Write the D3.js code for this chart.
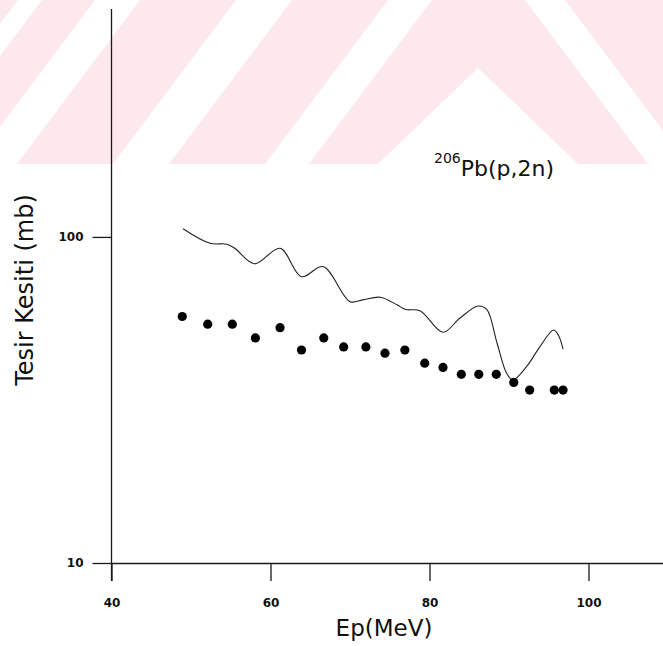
<!DOCTYPE html>
<html>
<head>
<meta charset="utf-8">
<script src="https://cdn.jsdelivr.net/npm/d3@7"></script>
<style>
  body { margin: 0; background: #fff; }
  svg { display: block; }
</style>
</head>
<body>
<svg id="chart" width="663" height="646"></svg>
<script>
// measured points (filled circles)
const pointE = [48.9, 52.1, 55.2, 58.1, 61.2, 63.9, 66.7, 69.2, 72.0, 74.4,
                76.9, 79.4, 81.7, 84.0, 86.2, 88.4, 90.6, 92.6, 95.7, 96.8]
const pointSigma = [57, 54, 54, 49, 52.7, 45, 49, 46, 46, 44,
                    45, 41, 39.8, 37.9, 37.9, 37.9, 35.8, 33.9, 33.9, 33.9]

// calculated curve
const curveE = [49.0, 52.4, 54.5, 55.5, 58.0, 61.2, 63.9, 66.6, 70.0, 71.6, 73.8,
                75.9, 77.0, 78.8, 81.7, 83.8, 86.1, 87.2, 88.5, 89.7, 90.5,
                92.2, 93.9, 95.6, 96.2, 96.8]
const curveSigma = [106, 95.6, 95.0, 92.3, 82.7, 92.3, 75.5, 81.1, 63.3, 64.1, 65.3,
                    61.9, 59.9, 59.4, 51.0, 56.3, 61.4, 59.9, 47.2, 38.2, 36.4,
                    40.0, 46.1, 51.8, 50.0, 45.3]

const xMajor = [40, 60, 80, 100]
const xMinor = [50, 70, 90]
const yMajor = [10, 100]
const yMinor = [20, 30, 40, 50, 60, 70, 80, 90, 200, 300, 400, 500]

const svg = d3.select('#chart')
const W = 663

// background watermark (pink diagonal bands)
const bandH = 164
const k = 0.75
const wm = svg.append('g')
wm.append('rect').attr('x', 0).attr('y', 0).attr('width', W).attr('height', bandH)
    .attr('fill', '#fde9ed')
// "/" white stripes : top x start and end
const slashTops = [[18, 42], [95, 140], [236, 292], [388, 432]]
slashTops.forEach(([a, b]) => {
    wm.append('polygon')
        .attr('points', [[a, 0], [b, 0], [b - k * bandH, bandH], [a - k * bandH, bandH]].join(' '))
        .attr('fill', '#fff')
})
// "^" white wedge
wm.append('polygon')
    .attr('points', [[478, 68], [478 + 100, bandH], [478 - 100, bandH]].join(' '))
    .attr('fill', '#fff')
// "\" white stripe on the right
wm.append('polygon')
    .attr('points', [[525, 0], [565, 0], [565 + k * bandH, bandH], [525 + k * bandH, bandH]].join(' '))
    .attr('fill', '#fff')

const x = d3.scaleLinear().domain([40, 110]).range([111.5, 668])
const y = d3.scaleLog().domain([10, 500]).range([563, 9])

const axisColor = '#1a1a1a'

// y axis
const gy = svg.append('g').attr('transform', 'translate(111.5,0)')
gy.call(d3.axisLeft(y).tickValues(yMinor).tickSize(9).tickSizeOuter(0).tickFormat(''))
gy.call(d3.axisLeft(y).tickValues(yMajor).tickSize(19).tickSizeOuter(0).tickFormat(d3.format('d')).tickPadding(9))
gy.select('.domain').attr('d', `M0,${y(500)}V581`)

// x axis
const gx = svg.append('g').attr('transform', `translate(0,${y(10)})`)
gx.call(d3.axisBottom(x).tickValues(xMinor).tickSize(8).tickSizeOuter(0).tickFormat(''))
gx.call(d3.axisBottom(x).tickValues(xMajor).tickSize(18).tickSizeOuter(0).tickFormat(d3.format('d')).tickPadding(17))

svg.selectAll('.domain, .tick line').attr('stroke', axisColor).attr('stroke-width', 1.3)
svg.selectAll('.tick text')
    .attr('fill', '#111')
    .style('font-family', '"DejaVu Sans", sans-serif')
    .style('font-weight', 'bold')
    .style('font-size', '12px')

// curve
const line = d3.line()
    .x((d, i) => x(curveE[i]))
    .y(d => y(d))
    .curve(d3.curveCatmullRom.alpha(0.5))

svg.append('path')
    .datum(curveSigma)
    .attr('d', line)
    .attr('fill', 'none')
    .attr('stroke', '#222')
    .attr('stroke-width', 1.1)

// points
svg.selectAll('circle.pt')
    .data(pointSigma)
    .enter().append('circle')
    .attr('class', 'pt')
    .attr('cx', (d, i) => x(pointE[i]))
    .attr('cy', d => y(d))
    .attr('r', 4.6)
    .attr('fill', '#000')

// titles
const font = '"DejaVu Sans", sans-serif'
svg.append('text')
    .attr('x', 384).attr('y', 636)
    .attr('text-anchor', 'middle')
    .style('font-family', font).style('font-size', '23px')
    .attr('fill', '#111')
    .text('Ep(MeV)')

svg.append('text')
    .attr('transform', 'translate(33,290) rotate(-90)')
    .attr('text-anchor', 'middle')
    .style('font-family', font).style('font-size', '24px')
    .attr('fill', '#111')
    .text('Tesir Kesiti (mb)')

const title = svg.append('text')
    .attr('x', 434).attr('y', 176)
    .style('font-family', font)
    .attr('fill', '#111')
title.append('tspan').attr('dy', -13).style('font-size', '14px').text('206')
title.append('tspan').attr('dy', 13).style('font-size', '22px').text('Pb(p,2n)')
</script>
</body>
</html>
